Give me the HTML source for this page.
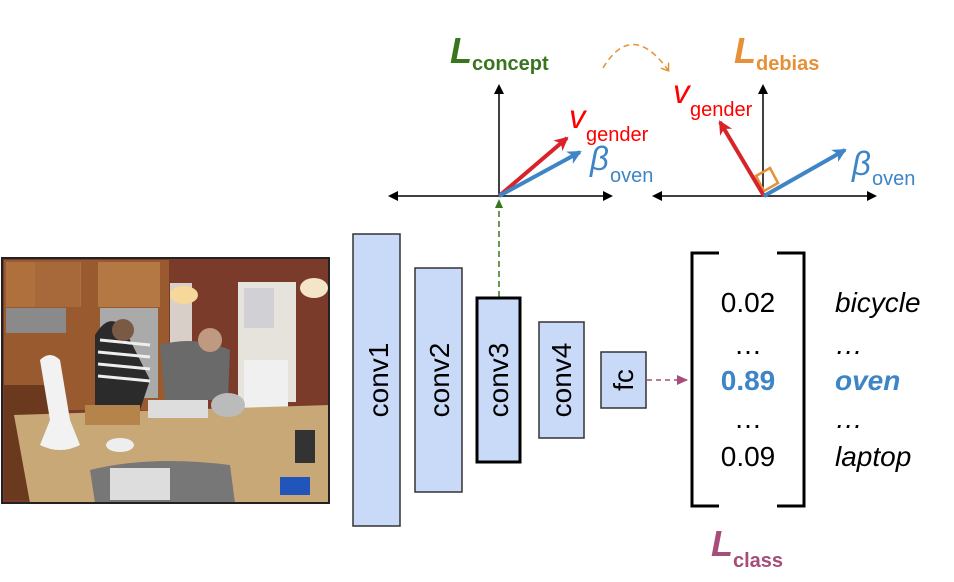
<!DOCTYPE html>
<html><head><meta charset="utf-8"><style>
body{margin:0;background:#fff;width:954px;height:582px;overflow:hidden}
svg{display:block}
text{font-family:"Liberation Sans",sans-serif}
</style></head><body>
<svg width="954" height="582" viewBox="0 0 954 582" xmlns="http://www.w3.org/2000/svg">
<defs>
<marker id="ab" markerWidth="10" markerHeight="10" refX="8" refY="5" orient="auto" markerUnits="userSpaceOnUse"><path d="M0,0 L10,5 L0,10 z" fill="#000"/></marker>
<marker id="ar" markerWidth="16" markerHeight="16" refX="12" refY="8" orient="auto" markerUnits="userSpaceOnUse"><path d="M0,1 L14,8 L0,15 L4,8 z" fill="#d8232a"/></marker>
<marker id="abl" markerWidth="16" markerHeight="16" refX="12" refY="8" orient="auto" markerUnits="userSpaceOnUse"><path d="M0,1 L14,8 L0,15 L4,8 z" fill="#3d85c6"/></marker>
<marker id="ag" markerWidth="10" markerHeight="10" refX="8" refY="5" orient="auto" markerUnits="userSpaceOnUse"><path d="M0,1 L9,5 L0,9 z" fill="#38761d"/></marker>
<marker id="ap" markerWidth="12" markerHeight="12" refX="10" refY="6" orient="auto" markerUnits="userSpaceOnUse"><path d="M0,1 L11,6 L0,11 z" fill="#a64d79"/></marker>
<marker id="ao" markerWidth="10" markerHeight="10" refX="6" refY="5" orient="auto" markerUnits="userSpaceOnUse"><path d="M0,0 L7,5 L0,10" fill="none" stroke="#e69138" stroke-width="1.5"/></marker>
</defs>

<g>
<rect x="2" y="258" width="327" height="245" fill="#7a3b2a"/>
<rect x="4" y="260" width="165" height="150" fill="#9a5a30"/>
<rect x="6" y="262" width="75" height="45" fill="#b0703e"/>
<rect x="35" y="262" width="45" height="45" fill="#a7683a"/>
<rect x="98" y="262" width="62" height="45" fill="#b47844"/>
<rect x="6" y="308" width="60" height="25" fill="#8a8a8a"/>
<rect x="100" y="308" width="58" height="90" fill="#aaa"/>
<rect x="170" y="283" width="22" height="70" fill="#d8d0c8"/>
<rect x="238" y="282" width="58" height="120" fill="#e6e2dc"/>
<rect x="244" y="288" width="30" height="40" fill="#d0d0d5"/>
<rect x="244" y="360" width="44" height="55" fill="#f0f0f0"/>
<ellipse cx="184" cy="295" rx="14" ry="9" fill="#f6d89a"/>
<ellipse cx="314" cy="288" rx="14" ry="10" fill="#f4e4c8"/>
<rect x="4" y="385" width="45" height="115" fill="#6b3a1e"/>
<path d="M95,335 Q110,310 125,330 L150,380 L140,410 L95,410 z" fill="#2b2b2b"/>
<path d="M100,340 L150,345 M98,352 L150,357 M98,364 L150,369 M98,376 L150,381" stroke="#eee" stroke-width="3"/>
<circle cx="123" cy="330" r="11" fill="#7a5a44"/>
<path d="M160,345 Q195,335 230,350 L228,400 L165,400 z" fill="#6a6a6a"/>
<circle cx="210" cy="340" r="12" fill="#c09a80"/>
<path d="M14,415 L330,405 L330,503 L30,503 z" fill="#c9a878"/>
<path d="M90,470 Q150,455 230,465 L235,503 L95,503 z" fill="#777"/>
<rect x="110" y="468" width="60" height="32" fill="#ddd"/>
<path d="M40,360 Q50,350 60,360 L70,420 L80,445 Q60,455 40,445 L50,420 z" fill="#f2f2f2"/>
<rect x="85" y="405" width="55" height="20" fill="#b5844a"/>
<rect x="148" y="400" width="60" height="18" fill="#ddd"/>
<ellipse cx="228" cy="405" rx="17" ry="12" fill="#bbb"/>
<ellipse cx="120" cy="445" rx="14" ry="7" fill="#eee"/>
<rect x="295" y="430" width="20" height="33" fill="#333"/>
<rect x="280" y="477" width="30" height="18" fill="#2255bb"/>
<rect x="2" y="258" width="327" height="245" fill="none" stroke="#222" stroke-width="2"/>
</g>

<line x1="498" y1="196" x2="390" y2="196" stroke="#000" stroke-width="1.5" marker-end="url(#ab)"/>
<line x1="498" y1="196" x2="611" y2="196" stroke="#000" stroke-width="1.5" marker-end="url(#ab)"/>
<line x1="499" y1="196" x2="499" y2="86" stroke="#000" stroke-width="1.5" marker-end="url(#ab)"/>
<line x1="499" y1="196" x2="567" y2="138" stroke="#d8232a" stroke-width="4" marker-end="url(#ar)"/>
<line x1="499" y1="196" x2="580" y2="152" stroke="#3d85c6" stroke-width="4" marker-end="url(#abl)"/>
<text x="450" y="63" font-size="36" font-weight="bold" font-style="italic" fill="#38761d">L</text>
<text x="472" y="70" font-size="20" font-weight="bold" fill="#38761d">concept</text>
<text x="569" y="128" font-size="33" font-style="italic" fill="#ff0000">v</text>
<text x="586" y="141" font-size="20" fill="#ff0000">gender</text>
<text x="590" y="170" font-size="33" font-style="italic" fill="#3d85c6">β</text>
<text x="610" y="182" font-size="20" fill="#3d85c6">oven</text>

<path d="M603,68 Q632,20 668,70" fill="none" stroke="#e69138" stroke-width="1.5" stroke-dasharray="6,4" marker-end="url(#ao)"/>

<line x1="763" y1="196" x2="654" y2="196" stroke="#000" stroke-width="1.5" marker-end="url(#ab)"/>
<line x1="763" y1="196" x2="875" y2="196" stroke="#000" stroke-width="1.5" marker-end="url(#ab)"/>
<line x1="763" y1="196" x2="763" y2="86" stroke="#000" stroke-width="1.5" marker-end="url(#ab)"/>
<path d="M756,176 L770,168 L778,183 L764,191 z" fill="none" stroke="#e69138" stroke-width="2.5"/>
<line x1="764" y1="196" x2="720" y2="122" stroke="#d8232a" stroke-width="4" marker-end="url(#ar)"/>
<line x1="764" y1="196" x2="845" y2="150" stroke="#3d85c6" stroke-width="4" marker-end="url(#abl)"/>
<text x="734" y="63" font-size="36" font-weight="bold" font-style="italic" fill="#e69138">L</text>
<text x="756" y="70" font-size="20" font-weight="bold" fill="#e69138">debias</text>
<text x="673" y="103" font-size="33" font-style="italic" fill="#ff0000">v</text>
<text x="690" y="116" font-size="20" fill="#ff0000">gender</text>
<text x="852" y="175" font-size="33" font-style="italic" fill="#3d85c6">β</text>
<text x="872" y="185" font-size="20" fill="#3d85c6">oven</text>

<line x1="499" y1="297" x2="499" y2="200" stroke="#38761d" stroke-width="1.5" stroke-dasharray="6,4" marker-end="url(#ag)"/>

<g fill="#c9daf8" stroke="#333" stroke-width="1.5">
<rect x="353" y="234" width="47" height="292"/>
<rect x="415" y="268" width="47" height="224"/>
<rect x="539" y="322" width="45" height="116"/>
<rect x="601" y="352" width="45" height="56"/>
</g>
<rect x="477" y="298" width="43" height="164" fill="#c9daf8" stroke="#000" stroke-width="3"/>
<g font-size="28" fill="#000">
<text transform="translate(388,380) rotate(-90)" text-anchor="middle">conv1</text>
<text transform="translate(449,380) rotate(-90)" text-anchor="middle">conv2</text>
<text transform="translate(508,380) rotate(-90)" text-anchor="middle">conv3</text>
<text transform="translate(571,380) rotate(-90)" text-anchor="middle">conv4</text>
<text transform="translate(633,380) rotate(-90)" text-anchor="middle">fc</text>
</g>

<line x1="647" y1="380" x2="687" y2="380" stroke="#a64d79" stroke-width="1.5" stroke-dasharray="5,4" marker-end="url(#ap)"/>

<path d="M719,253 L692,253 L692,506 L719,506" fill="none" stroke="#000" stroke-width="3"/>
<path d="M777,253 L804,253 L804,506 L777,506" fill="none" stroke="#000" stroke-width="3"/>
<g font-size="28" text-anchor="middle">
<text x="748" y="312">0.02</text>
<text x="748" y="354">…</text>
<text x="748" y="390" font-weight="bold" fill="#3d85c6">0.89</text>
<text x="748" y="428">…</text>
<text x="748" y="466">0.09</text>
</g>
<g font-size="28" font-style="italic">
<text x="835" y="312">bicycle</text>
<text x="835" y="354">…</text>
<text x="835" y="390" font-weight="bold" fill="#3d85c6">oven</text>
<text x="835" y="428">…</text>
<text x="835" y="466">laptop</text>
</g>
<text x="711" y="556" font-size="36" font-weight="bold" font-style="italic" fill="#a64d79">L</text>
<text x="733" y="567" font-size="20" font-weight="bold" fill="#a64d79">class</text>
</svg>
</body></html>
